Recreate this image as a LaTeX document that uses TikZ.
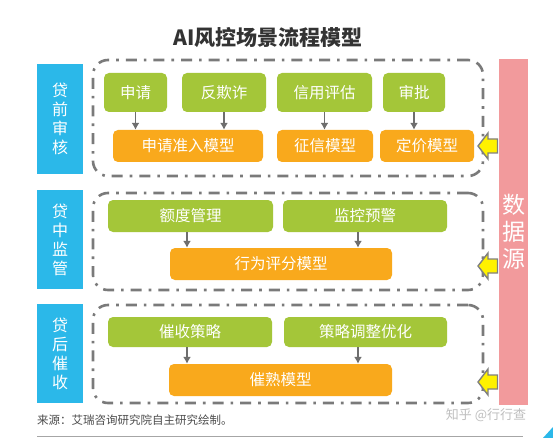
\documentclass[tikz,border=0pt]{standalone}
\usepackage{fontspec}
\setmainfont{Noto Sans CJK SC}
\usetikzlibrary{positioning,arrows.meta}
\definecolor{gbox}{HTML}{A4C639}
\definecolor{obox}{HTML}{F9A91C}
\definecolor{bbox}{HTML}{2BB8E9}
\definecolor{pbar}{HTML}{F29A9C}
\definecolor{dgray}{HTML}{7A7A7A}
\definecolor{agray}{HTML}{6E6E6E}
\tikzset{
  greenbox/.style={fill=gbox, rounded corners=5pt, text=white, font=\fontsize{15.5}{17}\selectfont, inner sep=0pt},
  orangebox/.style={fill=obox, rounded corners=5pt, text=white, font=\fontsize{15.5}{17}\selectfont, inner sep=0pt},
  bluebox/.style={fill=bbox, text=white, minimum width=46pt, inner sep=0pt, font=\fontsize{16}{19}\selectfont, align=center},
  frame/.style={draw=dgray, line width=2.6pt, rounded corners=15pt, dash pattern=on 11pt off 7pt on 2.6pt off 7pt, minimum width=390pt, inner sep=0pt},
  arr/.style={draw=agray, line width=1.4pt, -{Latex[length=7pt,width=8pt]}},
  yarrow/.style={fill=yellow, draw=gray, line width=1.4pt, line join=miter},
}
\begin{document}
\begin{tikzpicture}[x=1pt,y=-1pt]
\useasboundingbox (0,0) rectangle (553,438);
\fill[white] (0,0) rectangle (553,438);
% title
\node[font=\fontsize{21}{24}\selectfont\bfseries, text=black!80] (title) at (268,38) {AI风控场景流程模型};
% pink bar
\node[fill=pbar, minimum width=29pt, minimum height=346pt, inner sep=0pt, text=white, font=\fontsize{23}{27}\selectfont, align=center] (ds) at (513.5,232) {数\\据\\源};
% blue boxes
\node[bluebox, minimum height=110pt] (b1) at (60,119) {贷\\前\\审\\核};
\node[bluebox, minimum height=99pt] (b2) at (60,239.5) {贷\\中\\监\\管};
\node[bluebox, minimum height=99pt] (b3) at (60,353.5) {贷\\后\\催\\收};
% frames
\node[frame, minimum height=116pt] (f1) at (288,118) {};
\node[frame, minimum height=97pt] (f2) at (288,241.5) {};
\node[frame, minimum height=98pt] (f3) at (288,354) {};
% section 1
\node[greenbox, minimum width=63pt, minimum height=39pt] (g1) at (135.5,92.5) {申请};
\node[greenbox, minimum width=84pt, minimum height=39pt] (g2) at (224,92.5) {反欺诈};
\node[greenbox, minimum width=95pt, minimum height=39pt] (g3) at (324.5,92.5) {信用评估};
\node[greenbox, minimum width=62pt, minimum height=39pt] (g4) at (414,92.5) {审批};
\node[orangebox, minimum width=150pt, minimum height=32pt] (o1) at (188,146) {申请准入模型};
\node[orangebox, minimum width=96pt, minimum height=32pt] (o2) at (325,146) {征信模型};
\node[orangebox, minimum width=94pt, minimum height=32pt] (o3) at (427,146) {定价模型};
\draw[arr] (g1.south) -- (g1.south |- o1.north);
\draw[arr] (g2.south) -- (g2.south |- o1.north);
\draw[arr] (g3.south) -- (g3.south |- o2.north);
\draw[arr] (g4.south) -- (g4.south |- o3.north);
% section 2
\node[greenbox, minimum width=165pt, minimum height=32pt] (g5) at (190.5,216) {额度管理};
\node[greenbox, minimum width=164pt, minimum height=32pt] (g6) at (365,216) {监控预警};
\node[orangebox, minimum width=222pt, minimum height=32pt] (o4) at (281,264) {行为评分模型};
\draw[arr] ([xshift=-3.5pt]g5.south) -- ([xshift=-3.5pt]g5.south |- o4.north);
\draw[arr] ([xshift=-7pt]g6.south) -- ([xshift=-7pt]g6.south |- o4.north);
% section 3
\node[greenbox, minimum width=164pt, minimum height=30pt] (g7) at (190,332) {催收策略};
\node[greenbox, minimum width=163pt, minimum height=30pt] (g8) at (365.5,332) {策略调整优化};
\node[orangebox, minimum width=223pt, minimum height=32pt] (o5) at (280.5,380) {催熟模型};
\draw[arr] ([xshift=-3pt]g7.south) -- ([xshift=-3pt]g7.south |- o5.north);
\draw[arr] ([xshift=-7.5pt]g8.south) -- ([xshift=-7.5pt]g8.south |- o5.north);
% yellow arrows
\foreach \yy/\nm in {146/y1,266/y2,382/y3}{
  \coordinate (\nm) at (478,\yy);
  \draw[yarrow] (\nm) -- ++(10,-13) -- ++(0,6) -- ++(9.5,0) -- ++(0,14) -- ++(-9.5,0) -- ++(0,6) -- cycle;
}
% source and watermark
\node[anchor=west, text=black!70, font=\fontsize{11.5}{13}\selectfont, inner sep=0pt] (src) at (37,420) {来源：艾瑞咨询研究院自主研究绘制。};
\node[text=black!25, font=\fontsize{13}{15}\selectfont, inner sep=0pt] (wm) at (486,415) {知乎 @行行查};
\draw[black!35, line width=1.2pt] (37,436.5) -- (523,436.5);
\fill[bbox] (553,427) -- (553,438) -- (543,438) -- cycle;
\end{tikzpicture}
\end{document}
